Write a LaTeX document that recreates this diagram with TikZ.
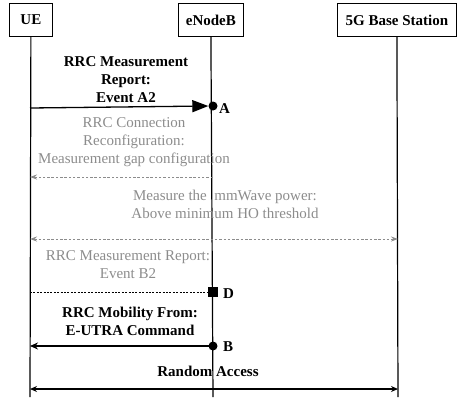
\documentclass[tikz,border=0pt]{standalone}
\usepackage{fontspec}
\setmainfont{Liberation Serif}
\usetikzlibrary{arrows.meta}
\definecolor{msggray}{HTML}{8C8C8C}
\begin{document}
\begin{tikzpicture}[x=1pt,y=-1pt,
  entity/.style={draw,line width=0.8pt,minimum height=33pt,inner sep=0pt,font=\fontsize{15}{18}\selectfont\bfseries,anchor=north west},
  lifeline/.style={line width=1.2pt},
  boldlbl/.style={font=\fontsize{15}{18}\selectfont\bfseries,align=center,inner sep=0pt},
  graylbl/.style={font=\fontsize{15}{18}\selectfont,text=msggray,align=center,inner sep=0pt},
  ptlabel/.style={font=\fontsize{15}{18}\selectfont\bfseries,inner sep=0pt,anchor=west},
  graydash/.style={msggray,line width=1pt,dash pattern=on 2.5pt off 1.8pt},
  dot/.style={circle,fill,inner sep=0pt,minimum size=9pt},
  sq/.style={rectangle,fill,inner sep=0pt,minimum size=10pt}]
\useasboundingbox (0,0) rectangle (458,397);

% entities
\node[entity,minimum width=43pt] (ue) at (9,3) {UE};
\node[entity,minimum width=65pt] (enb) at (178,3) {eNodeB};
\node[entity,minimum width=119pt] (gnb) at (337,3) {5G Base Station};

% lifelines
\coordinate (ueB) at (30,397);
\coordinate (enbB) at (213,397);
\coordinate (gnbB) at (398,397);
\draw[lifeline] (ue.south) -- (ueB);
\draw[lifeline] (enb.south) -- (enbB);
\draw[lifeline] (gnb.south) -- (gnbB);

% RRC measurement report A2
\node[boldlbl] (lA2) at (126,80) {RRC Measurement\\Report:\\Event A2};
\coordinate (a0) at (30,108);
\node[dot] (pA) at (213,106) {};
\node[ptlabel] (tA) at (219,109) {A};
\draw[line width=1.3pt,-{Triangle[length=16pt,width=12pt]}] (a0) -- (pA.west);

% RRC connection reconfiguration
\node[graylbl] (lrc) at (134,142) {RRC Connection\\Reconfiguration:\\Measurement gap configuration};
\coordinate (r0) at (213,177);
\coordinate (r1) at (30,177);
\draw[graydash,-{Stealth[length=7pt,width=5pt]}] (r0) -- (r1);

% measurement of mmWave power
\node[graylbl] (lmm) at (225,204) {Measure the \ mmWave power:\\Above minimum HO threshold};
\coordinate (m0) at (30,239);
\coordinate (m1) at (398,239);
\draw[graydash,{Stealth[length=7pt,width=5pt]}-{Stealth[length=7pt,width=5pt]}] (m0) -- (m1);

% RRC measurement report B2
\node[graylbl] (lB2) at (128,265) {RRC Measurement Report:\\Event B2};
\coordinate (d0) at (30,292);
\node[sq] (pD) at (213,292) {};
\node[ptlabel] (tD) at (223,294) {D};
\draw[line width=0.9pt,dash pattern=on 2pt off 1.4pt] (d0) -- (pD.west);

% mobility command
\node[boldlbl] (lmob) at (130,321) {RRC Mobility From:\\E-UTRA Command};
\node[dot] (pB) at (213,346) {};
\node[ptlabel] (tB) at (223,347) {B};
\coordinate (b1) at (30,346);
\draw[line width=1.3pt,-{Stealth[length=8pt,width=7pt]}] (pB.center) -- (b1);

% random access
\node[boldlbl] (lra) at (208,371) {Random Access};
\coordinate (ra0) at (30,389);
\coordinate (ra1) at (398,389);
\draw[line width=1.3pt,{Stealth[length=7pt,width=6pt]}-{Stealth[length=7pt,width=6pt]}] (ra0) -- (ra1);
\end{tikzpicture}
\end{document}
